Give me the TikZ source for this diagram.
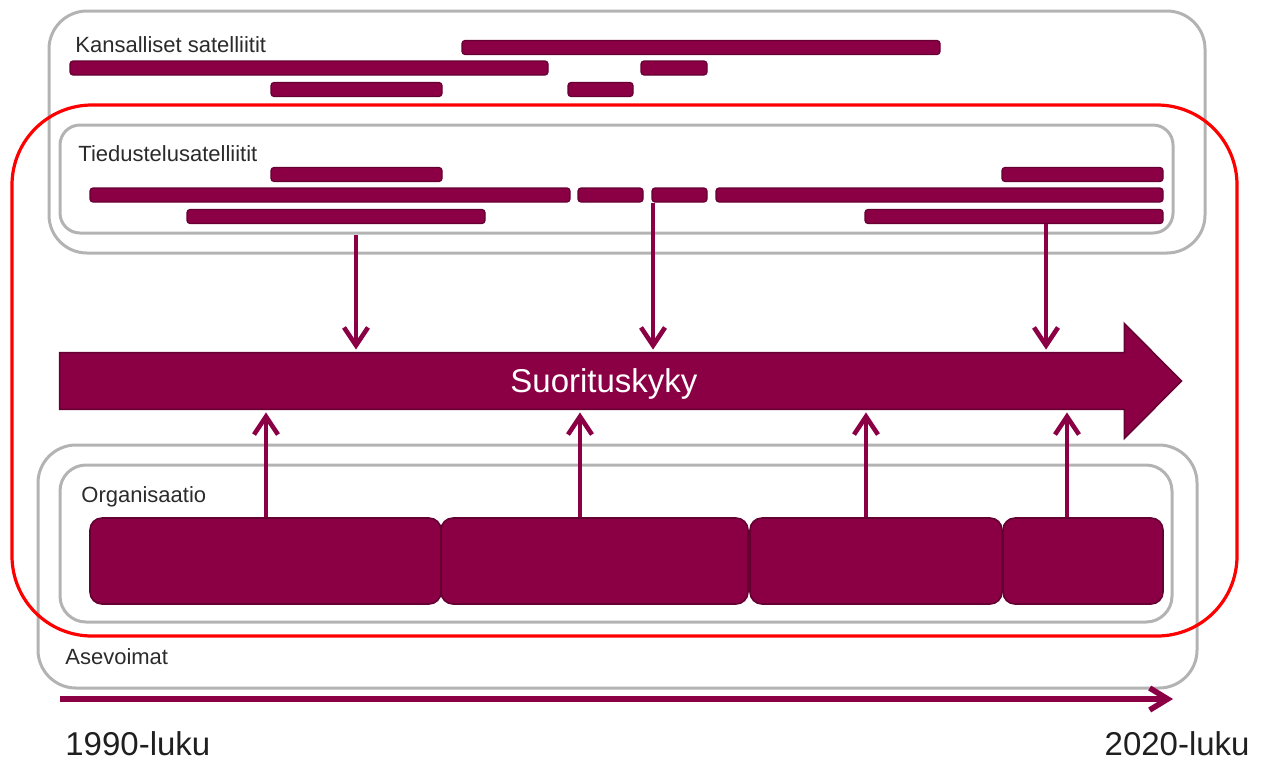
\documentclass[tikz,border=0pt]{standalone}
\usepackage{fontspec}
\setmainfont{Liberation Sans}
\usetikzlibrary{arrows.meta, positioning, calc}

\definecolor{wine}{HTML}{8B0045}
\definecolor{winedark}{HTML}{650032}
\definecolor{frame}{HTML}{B3B3B3}
\definecolor{txt}{HTML}{2B2B2B}

\begin{document}
\begin{tikzpicture}[x=0.5pt, y=-0.5pt,
  group/.style={draw=frame, line width=1.5pt, rounded corners=19pt, inner sep=0pt},
  grouplabel/.style={anchor=base west, text=txt, font=\fontsize{11}{13}\selectfont, inner sep=0pt},
  bar/.style={fill=wine, draw=winedark, line width=0.6pt, rounded corners=1.5pt, minimum height=7pt, inner sep=0pt},
  orgblock/.style={fill=wine, draw=winedark, line width=0.8pt, rounded corners=6pt, minimum height=43pt, inner sep=0pt},
  link/.style={draw=wine, line width=2.3pt, shorten >=1.5pt, -{Straight Barb[length=9pt,width=12pt]}},
  year/.style={font=\fontsize{16.5}{20}\selectfont, text=black!88, inner sep=0pt}
]
\useasboundingbox (0,0) rectangle (1267,762);

% Frames
\node[group, minimum width=578pt, minimum height=121pt] (kans) at (627,132) {};
\node[group, rounded corners=10pt, minimum width=556.5pt, minimum height=54pt] (tied) at (616.5,179) {};
\node[group, minimum width=579.5pt, minimum height=121.5pt] (ase) at (617.5,566.5) {};
\node[group, rounded corners=13pt, minimum width=556pt, minimum height=78.5pt] (org) at (616,543.5) {};
\node[draw=red, line width=1.6pt, rounded corners=40pt, inner sep=0pt, minimum width=612.5pt, minimum height=265.5pt] (focus) at (624.5,370.5) {};

\node[grouplabel] (kanslabel) at (75,52) {Kansalliset satelliitit};
\node[grouplabel] (tiedlabel) at (78,161) {Tiedustelusatelliitit};
\node[grouplabel] (orglabel) at (81,502) {Organisaatio};
\node[grouplabel] (aselabel) at (65,664) {Asevoimat};

% National satellites
\node[bar, minimum width=239pt] (k1) at (701,47.5) {};
\node[bar, minimum width=239pt] (k2) at (309,68) {};
\node[bar, minimum width=33pt] (k3) at (674,68) {};
\node[bar, minimum width=85.5pt] (k4) at (356.5,89.5) {};
\node[bar, minimum width=32.5pt] (k5) at (600.5,89.5) {};

% Intelligence satellites
\node[bar, minimum width=85.5pt] (t1) at (356.5,174.5) {};
\node[bar, minimum width=80.5pt] (t2) at (1082.5,174.5) {};
\node[bar, minimum width=240pt] (t3) at (330,195) {};
\node[bar, minimum width=32.5pt] (t4) at (610.5,195) {};
\node[bar, minimum width=27.5pt] (t5) at (679.5,195) {};
\node[bar, minimum width=223.5pt] (t6) at (939.5,195) {};
\node[bar, minimum width=149pt] (t7) at (336,216.5) {};
\node[bar, minimum width=149pt] (t8) at (1014,216.5) {};

% Performance arrow
\node[inner sep=0pt, minimum width=532pt, minimum height=28pt] (perf) at (592,381) {};
\filldraw[fill=wine, draw=winedark, line width=0.8pt]
  (perf.north west) -- (perf.north east) -- ($(perf.north east)+(0,-29)$)
  -- ($(perf.east)+(57,0)$) -- ($(perf.south east)+(0,29)$)
  -- (perf.south east) -- (perf.south west) -- cycle;
\node[anchor=base west, text=white, font=\fontsize{16.5}{20}\selectfont, inner sep=0pt] (perftext) at (510,392) {Suorituskyky};

% Organisation
\node[orgblock, minimum width=175.5pt] (o1) at (265.5,561) {};
\node[orgblock, minimum width=153.5pt] (o2) at (594.5,561) {};
\node[orgblock, minimum width=126pt] (o3) at (876,561) {};
\node[orgblock, minimum width=80pt] (o4) at (1083,561) {};

% Arrows
\draw[link] (356,0 |- tied.south) -- (356,0 |- perf.north);
\draw[link] (653,0 |- t5.south) -- (653,0 |- perf.north);
\draw[link] (1046,0 |- t8.south) -- (1046,0 |- perf.north);
\draw[link] (266,0 |- o1.north) -- (266,0 |- perf.south);
\draw[link] (580,0 |- o2.north) -- (580,0 |- perf.south);
\draw[link] (866,0 |- o3.north) -- (866,0 |- perf.south);
\draw[link] (1067,0 |- o4.north) -- (1067,0 |- perf.south);

% Timeline
\coordinate (tl0) at (60,699);
\coordinate (tl1) at (1173,699);
\draw[draw=wine, line width=2.8pt, -{Straight Barb[length=9pt,width=11pt]}] (tl0) -- (tl1);
\node[year, anchor=base west] (y1990) at (65,755) {1990-luku};
\node[year, anchor=base east] (y2020) at (1250,755) {2020-luku};
\end{tikzpicture}
\end{document}
